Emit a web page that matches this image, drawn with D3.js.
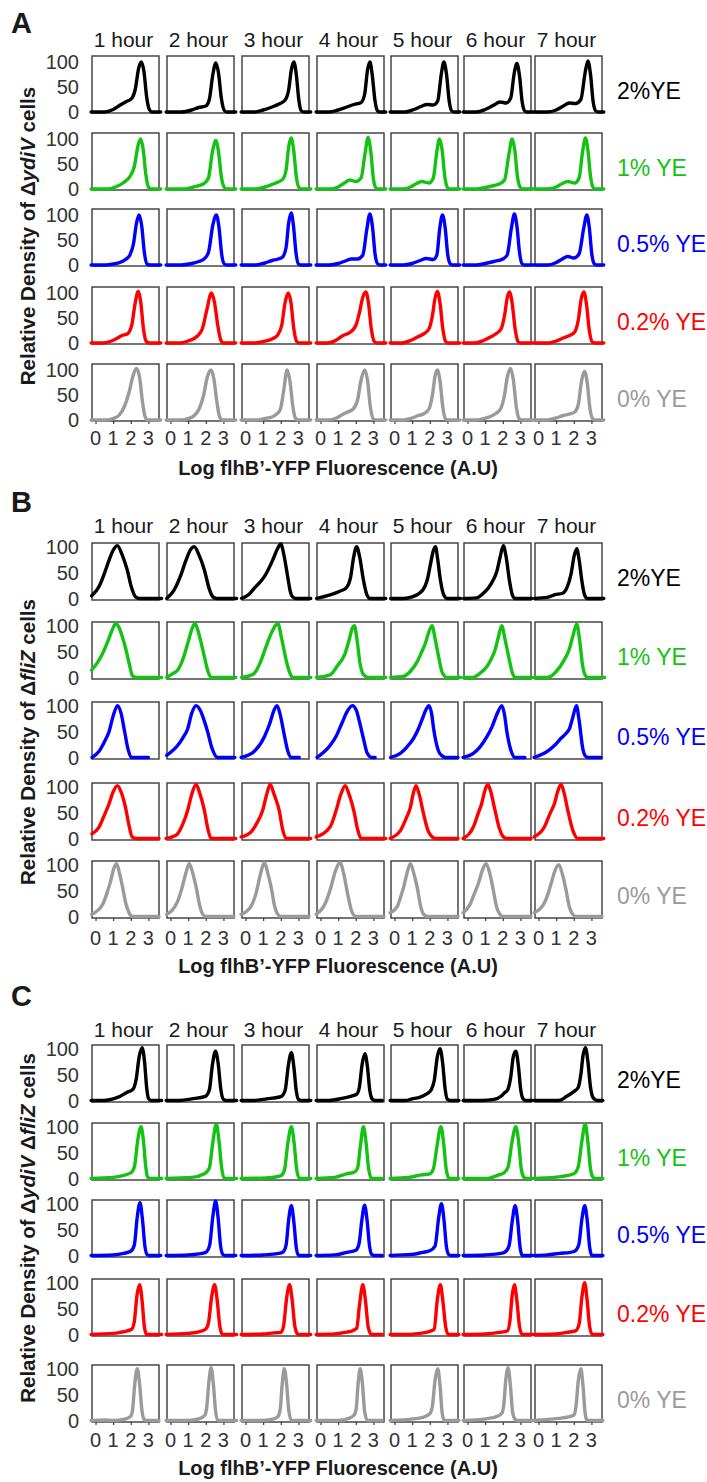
<!DOCTYPE html>
<html>
<head>
<meta charset="utf-8">
<script src="https://cdn.jsdelivr.net/npm/d3@7"></script>
<style>
  body { margin: 0; background: #fff; }
  svg text { font-family: "Liberation Sans", Arial, sans-serif; }
</style>
</head>
<body>
<div id="chart"></div>
<script>
const hours = ["1 hour", "2 hour", "3 hour", "4 hour", "5 hour", "6 hour", "7 hour"];
const yeLabels = ["2%YE", "1% YE", "0.5% YE", "0.2% YE", "0% YE"];
const xTicks = [0, 1, 2, 3];
const yTicks = [0, 50, 100];
const xTitle = "Log flhB\u2019-YFP Fluorescence (A.U)";
// strain names: [text, italic]
const strainA = [["\u0394", false], ["ydiV", true], [" cells", false]];
const strainB = [["\u0394", false], ["fliZ", true], [" cells", false]];
const strainC = [["\u0394", false], ["ydiV", true], [" \u0394", false], ["fliZ", true], [" cells", false]];

// curves: [log fluorescence, relative density]
// panel A, rows = 2%, 1%, 0.5%, 0.2%, 0% YE ; columns = 1..7 hour
const panelA = [
  [
    [[-0.25,0],[0.5,0],[1.0,5],[1.4,14],[1.75,21],[2.05,27],[2.25,45],[2.45,88],[2.6,100],[2.75,80],[2.9,30],[3.05,5],[3.2,0],[3.7,0]],
    [[-0.25,0],[0.6,0],[1.2,4],[1.6,9],[2.0,12],[2.2,25],[2.4,75],[2.57,98],[2.72,78],[2.88,28],[3.05,3],[3.2,0],[3.7,0]],
    [[-0.25,0],[0.5,0],[1.0,4],[1.5,10],[1.9,16],[2.25,24],[2.45,45],[2.6,85],[2.74,100],[2.88,75],[3.02,25],[3.15,3],[3.3,0],[3.7,0]],
    [[-0.25,0],[0.5,0],[1.0,4],[1.5,10],[1.9,15],[2.3,19],[2.5,35],[2.67,85],[2.8,100],[2.93,75],[3.08,25],[3.22,3],[3.35,0],[3.7,0]],
    [[-0.25,0],[0.6,0],[1.1,5],[1.5,11],[1.85,15],[2.2,14],[2.45,22],[2.65,75],[2.8,100],[2.95,75],[3.1,22],[3.25,2],[3.4,0],[3.7,0]],
    [[-0.25,0],[0.5,0],[1.0,5],[1.45,13],[1.85,20],[2.2,18],[2.45,28],[2.65,78],[2.8,97],[2.95,72],[3.1,20],[3.25,2],[3.4,0],[3.7,0]],
    [[-0.25,0],[0.5,0],[1.0,4],[1.4,12],[1.75,18],[2.1,17],[2.4,25],[2.65,80],[2.8,102],[2.95,75],[3.1,20],[3.25,2],[3.4,0],[3.7,0]]
  ],
  [
    [[-0.25,0],[0.7,0],[1.2,5],[1.6,13],[1.95,25],[2.2,45],[2.4,85],[2.55,100],[2.7,80],[2.85,30],[3.0,4],[3.15,0],[3.7,0]],
    [[-0.25,0],[0.7,0],[1.3,4],[1.9,11],[2.15,22],[2.38,75],[2.57,97],[2.72,75],[2.88,25],[3.05,3],[3.2,0],[3.7,0]],
    [[-0.25,0],[0.6,0],[1.1,4],[1.5,9],[1.85,14],[2.1,19],[2.3,38],[2.45,85],[2.59,102],[2.73,78],[2.88,25],[3.05,2],[3.2,0],[3.7,0]],
    [[-0.25,0],[0.5,0],[1.0,4],[1.35,12],[1.66,18],[2.0,15],[2.3,22],[2.52,70],[2.7,103],[2.85,75],[3.0,20],[3.15,2],[3.3,0],[3.7,0]],
    [[-0.25,0],[0.5,0],[0.9,4],[1.25,11],[1.55,15],[1.95,12],[2.2,22],[2.4,75],[2.55,100],[2.7,78],[2.85,25],[3.0,3],[3.15,0],[3.7,0]],
    [[-0.25,0],[0.5,0],[1.0,3],[1.5,7],[1.85,11],[2.1,18],[2.35,70],[2.53,100],[2.68,78],[2.83,25],[3.0,3],[3.15,0],[3.7,0]],
    [[-0.25,0],[0.5,0],[1.0,4],[1.35,11],[1.66,15],[2.05,12],[2.3,22],[2.5,75],[2.66,102],[2.8,78],[2.95,25],[3.1,3],[3.25,0],[3.7,0]]
  ],
  [
    [[-0.25,0],[0.6,0],[1.0,2],[1.38,5],[1.7,11],[1.95,20],[2.15,42],[2.33,85],[2.47,100],[2.62,78],[2.77,25],[2.92,2],[3.1,0],[3.7,0]],
    [[-0.25,0],[0.6,0],[1.2,3],[1.6,7],[1.9,12],[2.15,25],[2.4,80],[2.6,100],[2.75,75],[2.9,22],[3.05,2],[3.2,0],[3.7,0]],
    [[-0.25,0],[0.6,0],[1.1,4],[1.5,9],[1.85,12],[2.1,16],[2.3,35],[2.45,85],[2.59,104],[2.72,78],[2.86,25],[3.0,2],[3.15,0],[3.7,0]],
    [[-0.25,0],[0.5,0],[1.0,3],[1.4,8],[1.76,12],[2.1,12],[2.4,20],[2.62,70],[2.8,102],[2.95,75],[3.1,20],[3.25,2],[3.4,0],[3.7,0]],
    [[-0.25,0],[0.5,0],[1.0,3],[1.45,9],[1.8,13],[2.2,11],[2.4,20],[2.57,75],[2.72,100],[2.87,75],[3.02,20],[3.17,2],[3.3,0],[3.7,0]],
    [[-0.25,0],[0.5,0],[1.0,3],[1.5,7],[2.0,12],[2.25,20],[2.48,72],[2.66,102],[2.8,78],[2.95,25],[3.1,2],[3.25,0],[3.7,0]],
    [[-0.25,0],[0.5,0],[0.95,4],[1.35,12],[1.66,17],[2.0,14],[2.3,22],[2.57,75],[2.74,100],[2.88,75],[3.02,22],[3.17,2],[3.3,0],[3.7,0]]
  ],
  [
    [[-0.25,0],[0.4,0],[0.9,4],[1.25,10],[1.5,15],[1.8,18],[2.05,35],[2.25,80],[2.42,103],[2.57,80],[2.72,28],[2.88,3],[3.05,0],[3.7,0]],
    [[-0.25,0],[0.5,0],[1.0,4],[1.53,14],[1.8,28],[2.05,65],[2.32,100],[2.5,80],[2.68,35],[2.85,6],[3.0,0],[3.7,0]],
    [[-0.25,0],[0.5,0],[1.0,3],[1.5,8],[1.8,15],[2.05,35],[2.25,82],[2.42,100],[2.58,80],[2.74,28],[2.9,3],[3.05,0],[3.7,0]],
    [[-0.25,0],[0.4,0],[0.9,6],[1.27,15],[1.7,22],[2.0,35],[2.2,60],[2.4,92],[2.57,102],[2.72,80],[2.88,28],[3.05,3],[3.2,0],[3.7,0]],
    [[-0.25,0],[0.4,0],[0.9,5],[1.3,12],[1.64,18],[1.95,28],[2.15,55],[2.3,90],[2.43,103],[2.58,80],[2.74,28],[2.9,3],[3.05,0],[3.7,0]],
    [[-0.25,0],[0.4,0],[0.9,5],[1.3,12],[1.59,18],[1.9,28],[2.1,55],[2.25,90],[2.38,102],[2.53,80],[2.7,28],[2.86,3],[3.0,0],[3.7,0]],
    [[-0.25,0],[0.5,0],[1.0,4],[1.4,10],[1.76,15],[2.05,22],[2.25,45],[2.42,88],[2.57,102],[2.72,78],[2.88,25],[3.05,2],[3.2,0],[3.7,0]]
  ],
  [
    [[-0.25,0],[0.6,0],[1.0,3],[1.35,10],[1.66,29],[1.9,55],[2.1,85],[2.32,103],[2.5,85],[2.65,40],[2.8,8],[2.95,0],[3.7,0]],
    [[-0.25,0],[0.6,0],[1.0,3],[1.35,9],[1.62,22],[1.88,50],[2.08,85],[2.29,100],[2.46,82],[2.62,38],[2.78,7],[2.92,0],[3.7,0]],
    [[-0.25,0],[0.6,0],[1.1,3],[1.5,6],[1.8,13],[1.98,22],[2.15,55],[2.36,100],[2.52,78],[2.68,28],[2.84,3],[3.0,0],[3.7,0]],
    [[-0.25,0],[0.4,0],[0.9,4],[1.2,10],[1.47,15],[1.85,22],[2.1,40],[2.3,80],[2.51,100],[2.67,78],[2.83,25],[3.0,2],[3.15,0],[3.7,0]],
    [[-0.25,0],[0.5,0],[1.0,4],[1.35,9],[1.64,12],[1.95,22],[2.15,50],[2.3,88],[2.43,100],[2.58,78],[2.74,25],[2.9,2],[3.05,0],[3.7,0]],
    [[-0.25,0],[0.5,0],[0.95,3],[1.3,7],[1.6,13],[1.87,22],[2.07,45],[2.27,88],[2.44,103],[2.6,80],[2.76,28],[2.92,3],[3.08,0],[3.7,0]],
    [[-0.25,0],[0.5,0],[1.0,4],[1.4,9],[1.76,12],[2.05,16],[2.25,30],[2.45,80],[2.61,97],[2.76,75],[2.92,22],[3.08,2],[3.22,0],[3.7,0]]
  ]
];

const panelB = [
  [
    [[-0.22,5],[0.2,23],[0.5,48],[0.77,74],[1.0,93],[1.24,102],[1.5,85],[1.8,55],[2.05,20],[2.27,3],[2.5,0],[3.75,0]],
    [[-0.22,0],[0.2,16],[0.55,42],[0.88,74],[1.15,95],[1.35,100],[1.6,85],[1.92,55],[2.2,18],[2.4,3],[2.6,0],[3.75,0]],
    [[-0.22,0],[0.2,8],[0.5,20],[1.07,42],[1.54,74],[1.8,95],[2.0,105],[2.2,80],[2.39,42],[2.55,12],[2.67,3],[2.85,0],[3.7,0]],
    [[-0.22,0],[0.54,7],[1.1,14],[1.45,20],[1.7,40],[1.88,80],[2.05,100],[2.22,80],[2.43,36],[2.62,8],[2.81,0],[3.7,0]],
    [[-0.22,0],[0.5,0],[1.0,3],[1.6,16],[1.85,35],[2.05,68],[2.2,92],[2.32,100],[2.45,75],[2.6,36],[2.8,6],[2.98,0],[3.75,0]],
    [[-0.22,0],[0.5,1],[0.9,10],[1.18,20],[1.45,35],[1.66,52],[1.85,80],[2.03,102],[2.2,78],[2.37,36],[2.55,6],[2.7,0],[3.65,0]],
    [[-0.22,0],[0.5,2],[0.9,7],[1.37,10],[1.6,20],[1.85,48],[2.02,82],[2.17,96],[2.3,75],[2.45,36],[2.6,8],[2.75,0],[3.7,0]]
  ],
  [
    [[-0.22,14],[0.1,28],[0.4,46],[0.7,70],[0.95,92],[1.16,104],[1.35,95],[1.55,75],[1.73,53],[1.92,25],[2.1,3],[2.3,0],[3.75,0]],
    [[-0.22,0],[0.1,7],[0.4,14],[0.7,35],[0.97,65],[1.2,92],[1.39,104],[1.6,85],[1.92,40],[2.12,12],[2.3,0],[3.7,0]],
    [[-0.22,0],[0.2,3],[0.5,8],[0.85,30],[1.16,59],[1.5,88],[1.83,104],[2.05,75],[2.3,34],[2.5,10],[2.68,0],[3.7,0]],
    [[-0.22,0],[0.54,5],[0.95,22],[1.39,46],[1.62,72],[1.8,95],[1.92,100],[2.06,75],[2.24,27],[2.45,5],[2.71,0],[3.7,0]],
    [[-0.22,0],[0.5,2],[0.9,12],[1.28,30],[1.55,50],[1.75,66],[1.95,88],[2.13,100],[2.3,75],[2.5,40],[2.7,10],[2.98,0],[3.75,0]],
    [[-0.22,0],[0.33,0],[0.7,8],[1.1,21],[1.35,36],[1.56,53],[1.75,78],[1.94,100],[2.12,75],[2.37,34],[2.55,8],[2.7,0],[3.7,0]],
    [[-0.22,0],[0.5,0],[0.99,11],[1.46,34],[1.75,55],[1.95,80],[2.17,103],[2.33,72],[2.51,21],[2.65,4],[2.8,0],[3.75,0]]
  ],
  [
    [[-0.2,0],[0.2,12],[0.5,30],[0.77,50],[1.0,80],[1.25,100],[1.45,85],[1.65,50],[1.85,15],[2.03,0],[3.0,0]],
    [[-0.22,4],[0.4,23],[0.7,38],[0.97,55],[1.2,85],[1.45,100],[1.7,90],[1.9,72],[2.1,50],[2.35,18],[2.67,0],[3.65,0]],
    [[-0.25,0],[0.2,5],[0.5,12],[1.07,40],[1.4,68],[1.6,90],[1.79,100],[1.95,85],[2.2,43],[2.4,12],[2.6,0],[3.05,0]],
    [[-0.2,0],[0.54,23],[0.9,42],[1.2,65],[1.5,88],[1.8,100],[2.02,92],[2.2,70],[2.43,37],[2.65,8],[2.9,0],[3.1,0]],
    [[-0.22,0],[0.33,8],[0.7,20],[1.08,37],[1.35,55],[1.56,73],[1.78,92],[1.95,100],[2.1,85],[2.22,55],[2.5,12],[2.7,3],[2.88,0],[3.6,0]],
    [[-0.25,0],[0.33,8],[0.7,20],[1.1,40],[1.4,60],[1.65,82],[1.95,100],[2.1,82],[2.23,50],[2.45,15],[2.7,0],[3.25,0]],
    [[-0.25,0],[0.52,12],[0.9,23],[1.28,37],[1.55,46],[1.75,55],[1.95,78],[2.15,100],[2.3,72],[2.51,17],[2.65,3],[2.8,0],[3.55,0]]
  ],
  [
    [[-0.2,9],[0.2,22],[0.5,45],[0.77,67],[1.0,90],[1.24,102],[1.45,90],[1.7,60],[1.9,25],[2.08,3],[2.3,0],[3.6,0]],
    [[-0.25,0],[0.1,3],[0.4,9],[0.7,28],[0.97,54],[1.2,85],[1.45,104],[1.65,88],[1.92,54],[2.12,18],[2.3,0],[3.7,0]],
    [[-0.25,3],[0.3,12],[0.65,30],[0.97,54],[1.2,85],[1.4,104],[1.62,85],[1.91,54],[2.1,18],[2.3,0],[3.7,0]],
    [[-0.25,3],[0.54,22],[0.85,50],[1.15,85],[1.4,102],[1.62,85],[1.9,52],[2.1,18],[2.3,0],[3.7,0]],
    [[-0.25,0],[0.33,15],[0.65,38],[0.9,60],[1.05,85],[1.22,102],[1.4,85],[1.65,47],[1.9,15],[2.13,3],[2.35,0],[3.6,0]],
    [[-0.25,0],[0.33,22],[0.6,48],[0.8,67],[0.98,92],[1.15,104],[1.32,90],[1.56,54],[1.8,20],[2.03,3],[2.25,0],[3.6,0]],
    [[-0.25,3],[0.33,22],[0.65,48],[0.9,67],[1.1,92],[1.28,104],[1.45,88],[1.66,54],[1.95,15],[2.23,0],[3.7,0]]
  ],
  [
    [[-0.22,4],[0.4,23],[0.65,45],[0.87,70],[1.03,92],[1.19,102],[1.35,85],[1.53,57],[1.72,25],[1.9,7],[2.1,0],[3.6,0]],
    [[-0.22,4],[0.4,29],[0.65,55],[0.88,85],[1.06,102],[1.25,85],[1.45,57],[1.65,22],[1.83,4],[2.0,0],[3.6,0]],
    [[-0.25,4],[0.3,19],[0.6,45],[0.85,82],[1.07,104],[1.25,85],[1.45,57],[1.65,20],[1.83,4],[2.0,0],[3.6,0]],
    [[-0.25,4],[0.28,26],[0.55,52],[0.85,88],[1.1,104],[1.3,85],[1.5,50],[1.75,12],[2.0,0],[3.6,0]],
    [[-0.25,7],[0.15,19],[0.35,38],[0.52,57],[0.72,85],[0.9,102],[1.08,85],[1.28,57],[1.48,20],[1.65,4],[1.85,0],[3.6,0]],
    [[-0.25,7],[0.14,23],[0.4,45],[0.61,63],[0.85,90],[1.05,102],[1.25,85],[1.46,51],[1.65,18],[1.84,4],[2.0,0],[3.6,0]],
    [[-0.25,7],[0.33,26],[0.55,45],[0.71,63],[0.95,90],[1.15,100],[1.35,82],[1.56,51],[1.75,18],[1.94,4],[2.1,0],[3.6,0]]
  ]
];

const panelC = [
  [
    [[-0.25,0],[0.5,0],[1.0,3],[1.4,8],[1.75,15],[2.13,22],[2.3,40],[2.48,85],[2.64,102],[2.78,75],[2.9,25],[3.0,4],[3.15,0],[3.75,0]],
    [[-0.25,0],[0.5,0],[1.2,3],[1.98,8],[2.2,20],[2.38,70],[2.55,95],[2.7,72],[2.85,22],[3.0,2],[3.15,0],[3.75,0]],
    [[-0.25,0],[0.5,0],[1.2,3],[2.04,8],[2.25,20],[2.43,68],[2.6,92],[2.74,65],[2.88,18],[3.0,2],[3.15,0],[3.7,0]],
    [[-0.25,0],[0.5,0],[1.2,4],[1.7,8],[2.05,12],[2.2,25],[2.36,70],[2.52,90],[2.66,65],[2.8,18],[2.95,2],[3.1,0],[3.5,0]],
    [[-0.25,0],[0.6,0],[1.0,3],[1.42,6],[1.8,12],[2.07,20],[2.25,38],[2.43,85],[2.58,100],[2.73,72],[2.87,22],[3.0,2],[3.15,0],[3.65,0]],
    [[-0.25,0],[0.8,0],[1.51,2],[1.9,8],[2.1,15],[2.27,20],[2.45,45],[2.6,85],[2.74,95],[2.88,68],[3.02,20],[3.15,3],[3.3,0],[3.7,0]],
    [[-0.25,0],[1.15,0],[1.6,8],[2.0,17],[2.25,25],[2.4,50],[2.53,88],[2.66,102],[2.8,75],[2.95,25],[3.1,5],[3.33,0],[3.65,0]]
  ],
  [
    [[-0.25,0],[1.0,2],[1.6,6],[2.05,12],[2.22,25],[2.4,75],[2.58,100],[2.72,72],[2.85,22],[2.95,3],[3.1,0],[3.75,0]],
    [[-0.25,0],[1.2,2],[1.92,9],[2.2,20],[2.4,70],[2.6,105],[2.75,72],[2.9,20],[3.05,0],[3.75,0]],
    [[-0.25,0],[1.2,1],[1.99,5],[2.2,15],[2.4,68],[2.6,100],[2.75,70],[2.9,18],[3.05,0],[3.7,0]],
    [[-0.25,0],[0.8,2],[1.47,9],[1.9,12],[2.1,20],[2.27,65],[2.43,100],[2.58,70],[2.73,18],[2.9,0],[3.5,0]],
    [[-0.25,0],[0.8,2],[1.53,7],[2.0,9],[2.2,18],[2.42,65],[2.63,100],[2.78,70],[2.93,18],[3.1,0],[3.65,0]],
    [[-0.25,0],[1.12,0],[1.7,6],[2.07,11],[2.3,22],[2.52,70],[2.74,100],[2.9,70],[3.05,18],[3.2,2],[3.3,0],[3.7,0]],
    [[-0.25,0],[0.9,2],[1.35,4],[2.0,9],[2.25,22],[2.45,70],[2.65,105],[2.8,70],[2.95,18],[3.1,2],[3.23,0],[3.65,0]]
  ],
  [
    [[-0.25,0],[1.0,1],[1.6,4],[2.0,8],[2.2,20],[2.36,72],[2.52,102],[2.66,70],[2.8,18],[2.92,2],[3.05,0],[3.7,0]],
    [[-0.25,0],[1.0,1],[1.6,3],[2.0,6],[2.22,20],[2.4,75],[2.56,105],[2.7,72],[2.84,18],[2.97,2],[3.1,0],[3.7,0]],
    [[-0.25,0],[1.0,1],[1.7,3],[2.1,6],[2.3,20],[2.45,70],[2.6,96],[2.74,65],[2.88,15],[3.0,1],[3.1,0],[3.7,0]],
    [[-0.25,0],[0.8,1],[1.5,6],[2.0,10],[2.18,22],[2.35,70],[2.5,97],[2.64,68],[2.78,18],[2.9,2],[3.05,0],[3.5,0]],
    [[-0.25,0],[1.0,2],[1.6,6],[2.0,9],[2.3,18],[2.5,72],[2.66,100],[2.8,70],[2.94,18],[3.07,2],[3.2,0],[3.65,0]],
    [[-0.25,0],[1.0,1],[1.7,3],[2.1,6],[2.35,18],[2.55,70],[2.7,96],[2.84,68],[2.98,16],[3.1,0],[3.7,0]],
    [[-0.25,0],[0.5,1],[1.2,4],[1.8,6],[2.05,8],[2.28,20],[2.46,70],[2.62,96],[2.76,68],[2.9,16],[3.03,0],[3.65,0]]
  ],
  [
    [[-0.25,0],[1.0,2],[1.4,4],[1.8,7],[2.05,10],[2.2,25],[2.35,75],[2.5,96],[2.64,65],[2.77,15],[2.9,0],[3.75,0]],
    [[-0.25,0],[1.0,2],[1.6,5],[1.98,10],[2.15,22],[2.33,72],[2.5,96],[2.65,65],[2.8,15],[2.95,0],[3.75,0]],
    [[-0.25,0],[1.0,1],[1.6,3],[2.0,4],[2.15,15],[2.33,70],[2.5,96],[2.65,65],[2.8,15],[2.98,0],[3.7,0]],
    [[-0.25,0],[0.8,1],[1.4,4],[1.7,6],[2.05,12],[2.22,60],[2.4,96],[2.55,65],[2.7,15],[2.88,0],[3.5,0]],
    [[-0.25,0],[0.8,0],[1.42,2],[2.0,6],[2.25,10],[2.42,65],[2.6,96],[2.74,65],[2.9,15],[3.05,0],[3.65,0]],
    [[-0.25,0],[1.0,1],[1.8,4],[2.26,7],[2.4,25],[2.53,75],[2.66,96],[2.8,65],[2.95,15],[3.1,0],[3.7,0]],
    [[-0.25,0],[1.0,1],[1.6,4],[2.1,7],[2.3,20],[2.46,72],[2.62,100],[2.76,65],[2.9,15],[3.05,0],[3.65,0]]
  ],
  [
    [[-0.25,0],[0.5,1],[1.0,0],[1.6,2],[2.0,8],[2.1,20],[2.23,72],[2.37,100],[2.5,70],[2.63,20],[2.75,2],[2.85,0],[3.6,0]],
    [[-0.25,0],[1.0,0],[1.6,3],[1.95,10],[2.05,25],[2.17,72],[2.3,102],[2.43,70],[2.55,20],[2.67,0],[3.75,0]],
    [[-0.25,0],[1.0,0],[1.6,3],[1.85,8],[1.97,22],[2.08,70],[2.2,100],[2.33,70],[2.45,20],[2.6,0],[3.7,0]],
    [[-0.25,0],[1.0,0],[1.6,4],[1.9,10],[2.02,22],[2.13,70],[2.25,100],[2.38,70],[2.5,18],[2.65,0],[3.5,0]],
    [[-0.25,0],[1.05,3],[1.6,6],[2.0,13],[2.15,28],[2.3,78],[2.45,100],[2.58,68],[2.7,15],[2.83,0],[3.65,0]],
    [[-0.25,0],[1.2,4],[1.6,7],[1.93,13],[2.05,28],[2.17,78],[2.3,102],[2.43,68],[2.56,15],[2.7,2],[2.8,0],[3.7,0]],
    [[-0.25,0],[1.15,4],[1.7,7],[2.0,10],[2.12,26],[2.26,78],[2.4,100],[2.52,68],[2.64,15],[2.75,0],[3.65,0]]
  ]
];

// ---- layout & style ----
const width = 707, height = 1482;
const rowColors = ["#000000", "#14c214", "#0000ff", "#ff0000", "#9a9a9a"];
const colLeft = [92, 167, 242, 317, 391, 464, 535];
const boxW = 67, boxH = 57;
const xDomain = [-0.2, 3.6];

const panels = [
  { letter: "A", letterY: 33, titleY: 47, rows: [56, 133, 209, 287, 364], yDomain: [-2, 112],
    tickY: 445, axisY: 475, labelY: 236, strain: strainA, data: panelA },
  { letter: "B", letterY: 512, titleY: 533, rows: [543, 622, 702, 783, 861], yDomain: [-3, 107],
    tickY: 945, axisY: 973, labelY: 742, strain: strainB, data: panelB },
  { letter: "C", letterY: 1006, titleY: 1037, rows: [1045, 1123, 1200, 1279, 1365], yDomain: [-3, 107],
    tickY: 1447, axisY: 1475, labelY: 1228, strain: strainC, data: panelC }
];

const svg = d3.select("#chart").append("svg")
  .attr("width", width)
  .attr("height", height)
  .style("display", "block");

function drawPanel(p) {
  const g = svg.append("g").attr("class", "panel");

  g.append("text")
    .attr("x", 11).attr("y", p.letterY)
    .style("font-size", "29px").style("font-weight", "bold").attr("fill", "#1a1a1a")
    .text(p.letter);

  // hour titles
  g.selectAll(".hour").data(hours).enter().append("text")
    .attr("class", "hour")
    .attr("x", (d, i) => colLeft[i] + boxW / 2 - 2)
    .attr("y", p.titleY)
    .attr("text-anchor", "middle")
    .style("font-size", "21px").attr("fill", "#1a1a1a")
    .text(d => d);

  p.rows.forEach((top, r) => {
    const y = d3.scaleLinear().domain(p.yDomain).range([top + boxH, top]);
    const last = r === p.rows.length - 1;

    // y tick labels
    g.selectAll(null).data(yTicks).enter().append("text")
      .attr("x", 79)
      .attr("y", d => y(d))
      .attr("dy", "0.36em")
      .attr("text-anchor", "end")
      .style("font-size", "20px").attr("fill", "#333")
      .text(d => d);

    colLeft.forEach((left, c) => {
      const x = d3.scaleLinear().domain(xDomain).range([left, left + boxW]);

      g.append("rect")
        .attr("x", left).attr("y", top)
        .attr("width", boxW).attr("height", boxH)
        .attr("fill", "none").attr("stroke", "#3a3a3a").attr("stroke-width", 1.4);

      if (last) {
        const ax = g.append("g")
          .attr("transform", `translate(0,${top + boxH})`)
          .call(d3.axisBottom(x).tickValues(xTicks).tickSize(3).tickFormat(""));
        ax.select(".domain").remove();
        ax.selectAll("line").attr("stroke", "#3a3a3a").attr("stroke-width", 1.2);

        g.selectAll(null).data(xTicks).enter().append("text")
          .attr("x", d => x(d))
          .attr("y", p.tickY)
          .attr("text-anchor", "middle")
          .style("font-size", "20px").attr("fill", "#333")
          .text(d => d);
      }

      const line = d3.line()
        .x(d => x(d[0]))
        .y(d => y(d[1]))
        .curve(d3.curveMonotoneX);

      g.append("path")
        .datum(p.data[r][c])
        .attr("d", line)
        .attr("fill", "none")
        .attr("stroke", rowColors[r])
        .attr("stroke-width", 3.4)
        .attr("stroke-linejoin", "round")
        .attr("stroke-linecap", "round");
    });

    // YE label on the right
    g.append("text")
      .attr("x", 617)
      .attr("y", top + boxH / 2 + 6)
      .attr("dy", "0.36em")
      .style("font-size", "23px")
      .attr("fill", rowColors[r])
      .text(yeLabels[r]);
  });

  // x axis title
  g.append("text")
    .attr("x", 338).attr("y", p.axisY)
    .attr("text-anchor", "middle")
    .style("font-size", "20px").style("font-weight", "bold").attr("fill", "#1a1a1a")
    .text(xTitle);

  // y axis title with italic gene names
  const yt = g.append("text")
    .attr("transform", `translate(35,${p.labelY}) rotate(-90)`)
    .attr("text-anchor", "middle")
    .style("font-size", "20.5px").style("font-weight", "bold").attr("fill", "#1a1a1a");
  yt.append("tspan").text("Relative Density of  ");
  p.strain.forEach(([t, it]) => {
    yt.append("tspan").style("font-style", it ? "italic" : "normal").text(t);
  });
}

panels.forEach(drawPanel);
</script>
</body>
</html>
